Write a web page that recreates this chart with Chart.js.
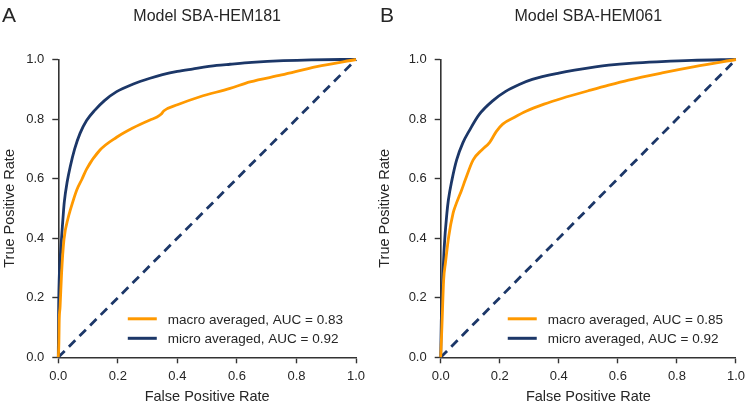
<!DOCTYPE html>
<html>
<head>
<meta charset="utf-8">
<script src="https://cdn.jsdelivr.net/npm/chart.js@4/dist/chart.umd.min.js"></script>
<style>
  html, body { margin: 0; padding: 0; background: #fff; }
  .panel { position: absolute; top: 0; width: 375px; height: 406px; }
</style>
</head>
<body>
<div class="panel" style="left:0"><canvas id="chartA"></canvas></div>
<div class="panel" style="left:375px"><canvas id="chartB"></canvas></div>
<script>
// Panel A - Model SBA-HEM181
const macroFprA = [0, 0.002, 0.003, 0.006, 0.011, 0.019, 0.034, 0.039, 0.062, 0.079, 0.095, 0.14, 0.196, 0.25, 0.308, 0.33, 0.345, 0.355, 0.4, 0.476, 0.577, 0.644, 0.75, 0.868, 1.0];
const macroTprA = [0, 0.05, 0.12, 0.17, 0.282, 0.395, 0.472, 0.49, 0.562, 0.597, 0.632, 0.696, 0.739, 0.77, 0.797, 0.806, 0.816, 0.828, 0.848, 0.875, 0.903, 0.925, 0.948, 0.976, 1.0];
const microFprA = [0, 0.001, 0.003, 0.009, 0.017, 0.02, 0.03, 0.04, 0.055, 0.073, 0.095, 0.123, 0.155, 0.196, 0.25, 0.308, 0.35, 0.4, 0.45, 0.532, 0.577, 0.65, 0.756, 0.85, 0.95, 1.0];
const microTprA = [0, 0.15, 0.26, 0.371, 0.484, 0.52, 0.59, 0.64, 0.70, 0.752, 0.795, 0.83, 0.862, 0.892, 0.917, 0.937, 0.949, 0.96, 0.968, 0.98, 0.984, 0.99, 0.996, 0.999, 1.0, 1.0];

// Panel B - Model SBA-HEM061
const macroFprB = [0, 0.004, 0.01, 0.016, 0.027, 0.042, 0.049, 0.071, 0.083, 0.11, 0.14, 0.166, 0.188, 0.21, 0.25, 0.289, 0.35, 0.412, 0.5, 0.569, 0.636, 0.75, 0.86, 1.0];
const macroTprB = [0, 0.1, 0.26, 0.316, 0.405, 0.484, 0.506, 0.562, 0.595, 0.663, 0.697, 0.722, 0.758, 0.783, 0.806, 0.826, 0.85, 0.87, 0.895, 0.914, 0.931, 0.955, 0.976, 1.0];
const microFprB = [0, 0.002, 0.007, 0.012, 0.021, 0.026, 0.038, 0.054, 0.075, 0.098, 0.13, 0.177, 0.22, 0.266, 0.31, 0.4, 0.524, 0.569, 0.65, 0.748, 0.85, 1.0];
const microTprB = [0, 0.12, 0.26, 0.371, 0.484, 0.528, 0.595, 0.663, 0.72, 0.763, 0.815, 0.862, 0.893, 0.916, 0.933, 0.954, 0.975, 0.981, 0.988, 0.993, 0.997, 1.0];

const chanceLine = [0, 1];
const tickValues = [0, 0.2, 0.4, 0.6, 0.8, 1.0];

const ORANGE = "#ff9900";
const NAVY = "#1c3768";
const INK = "#262626";
const FONT = "'Liberation Sans', Arial, sans-serif";

const pts = (xs, ys) => xs.map((x, i) => ({ x, y: ys[i] }));

// titles, panel letter and in-plot legend
const decorPlugin = {
  id: "decor",
  afterDraw(chart, args, opts) {
    const { ctx, chartArea } = chart;
    ctx.save();
    ctx.fillStyle = INK;
    ctx.textBaseline = "alphabetic";
    ctx.font = "21px " + FONT;
    ctx.textAlign = "left";
    ctx.fillText(opts.letter, opts.letterX, 22);
    ctx.font = "16px " + FONT;
    ctx.textAlign = "center";
    ctx.fillText(opts.title, (chartArea.left + chartArea.right) / 2, 21);

    // legend, right aligned inside the plot
    ctx.font = "13.5px " + FONT;
    const items = chart.data.datasets.filter(d => d.inLegend);
    const textW = Math.max(...items.map(d => ctx.measureText(d.label).width));
    const textX = chartArea.right - 13 - textW;
    items.forEach((d, i) => {
      const y = chartArea.bottom - 38.5 + i * 19.5;
      ctx.strokeStyle = d.borderColor;
      ctx.lineWidth = 3;
      ctx.beginPath();
      ctx.moveTo(textX - 40, y);
      ctx.lineTo(textX - 11, y);
      ctx.stroke();
      ctx.textAlign = "left";
      ctx.textBaseline = "middle";
      ctx.fillText(d.label, textX, y + 1);
    });
    ctx.restore();
  },
};

function axis(title, fitKey, fitValue, isX) {
  return {
    type: "linear",
    min: 0,
    max: 1,
    afterBuildTicks: s => { s.ticks = tickValues.map(v => ({ value: v })); },
    afterFit: s => { s[fitKey] = fitValue; },
    border: { display: true, color: "#333", width: 1.6 },
    grid: { drawOnChartArea: false, drawTicks: true, tickLength: 6, tickWidth: 1.4, tickColor: "#333" },
    ticks: {
      color: INK,
      font: { family: FONT, size: 13 },
      padding: isX ? 5 : 8,
      maxRotation: 0,
      callback: v => Number(v).toFixed(1),
    },
    title: {
      display: true,
      text: title,
      color: INK,
      font: { family: FONT, size: 14.5 },
      padding: { top: 1, bottom: 0 },
    },
  };
}

function makePanel(id, letter, letterX, title, macroF, macroT, microF, microT, aucMacro, aucMicro, yWidth, padRight) {
  new Chart(document.getElementById(id), {
    type: "scatter",
    data: {
      datasets: [
        {
          label: "macro averaged, AUC = " + aucMacro,
          data: pts(macroF, macroT),
          borderColor: ORANGE,
          inLegend: true,
        },
        {
          label: "micro averaged, AUC = " + aucMicro,
          data: pts(microF, microT),
          borderColor: NAVY,
          inLegend: true,
        },
        {
          label: "chance",
          data: pts(chanceLine, chanceLine),
          borderColor: NAVY,
          borderDash: [9, 6],
          borderWidth: 2.8,
          cubicInterpolationMode: "default",
        },
      ],
    },
    options: {
      responsive: true,
      maintainAspectRatio: false,
      animation: false,
      datasets: {
        scatter: {
          showLine: true,
          pointRadius: 0,
          borderWidth: 2.8,
          cubicInterpolationMode: "monotone",
          clip: 4,
        },
      },
      layout: { padding: { top: 59.5, right: padRight, left: 0, bottom: 0 } },
      plugins: {
        legend: { display: false },
        tooltip: { enabled: false },
        decor: { letter, letterX, title },
      },
      scales: {
        x: axis("False Positive Rate", "height", 48.7, true),
        y: axis("True Positive Rate", "width", yWidth, false),
      },
    },
    plugins: [decorPlugin],
  });
}

makePanel("chartA", "A", 2, "Model SBA-HEM181", macroFprA, macroTprA, microFprA, microTprA, "0.83", "0.92", 58.3, 19);
makePanel("chartB", "B", 5, "Model SBA-HEM061", macroFprB, macroTprB, microFprB, microTprB, "0.85", "0.92", 65.7, 11.7);
</script>
</body>
</html>
